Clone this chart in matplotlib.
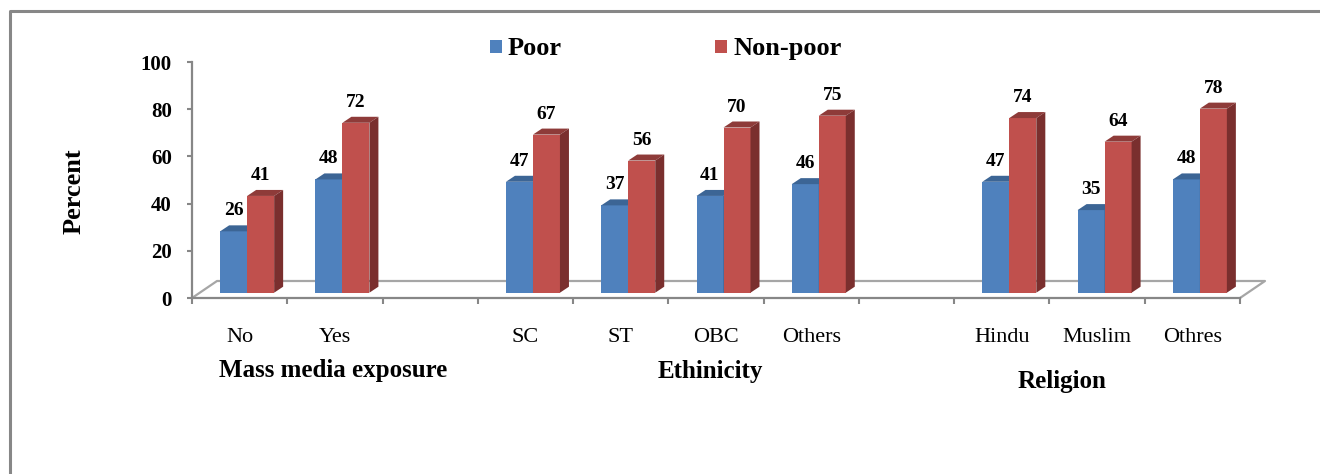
import numpy as np
import matplotlib
matplotlib.use("Agg")
import matplotlib.pyplot as plt
from matplotlib.patches import Polygon, Rectangle

plt.rcParams['font.family'] = ['Liberation Serif', 'DejaVu Serif']

# Categories ('' = empty spacer slot between groups)
categories = ['No', 'Yes', '', 'SC', 'ST', 'OBC', 'Others', '', 'Hindu', 'Muslim', 'Othres']
poor = [26, 48, np.nan, 47, 37, 41, 46, np.nan, 47, 35, 48]
non_poor = [41, 72, np.nan, 67, 56, 70, 75, np.nan, 74, 64, 78]
group_titles = ['Mass media exposure', 'Ethinicity', 'Religion']
series_names = ['Poor', 'Non-poor']
yticks = [0, 20, 40, 60, 80, 100]

W, H = 1320, 474
BLUE = ('#4F81BD', '#3C6595', '#385D8A')   # front, top, side
RED = ('#C0504D', '#8E3B39', '#7A2F2E')
GREY = '#878787'

fig = plt.figure(figsize=(W / 100, H / 100), dpi=100)
fig.patch.set_facecolor('white')

# axes box = front floor edge (x) and value axis (y), in pixels
ax = fig.add_axes([192 / W, 1 - 298 / H, (1240 - 192) / W, (298 - 62) / H])
ax.set_xlim(0, len(categories))
ax.set_ylim(0, 100)
ax.patch.set_visible(False)

px_x = (1240 - 192) / len(categories)
px_y = (298 - 62) / 100.0


def ddx(p):
    return p / px_x


def ddy(p):
    return p / px_y


# floor outline (back edge + side diagonals)
back_x, back_y = ddx(25), ddy(17)
n = len(categories)
ax.plot([0, back_x, n + back_x, n], [0, back_y, back_y, 0],
        color='#A6A6A6', lw=1.6, clip_on=False, zorder=1)

bar_w = ddx(27)
base_dx, base_dy = ddx(7.5), ddy(5.3)
dep_x, dep_y = ddx(9), ddy(6)


def bar3d(x0, val, cols):
    y0 = base_dy
    y1 = base_dy + val
    ax.add_patch(Rectangle((x0, y0), bar_w, val, facecolor=cols[0],
                           edgecolor='none', zorder=3, clip_on=False))
    ax.add_patch(Polygon([(x0, y1), (x0 + bar_w, y1),
                          (x0 + bar_w + dep_x, y1 + dep_y), (x0 + dep_x, y1 + dep_y)],
                         closed=True, facecolor=cols[1], edgecolor='none',
                         zorder=3, clip_on=False))
    ax.add_patch(Polygon([(x0 + bar_w, y0), (x0 + bar_w + dep_x, y0 + dep_y),
                          (x0 + bar_w + dep_x, y1 + dep_y), (x0 + bar_w, y1)],
                         closed=True, facecolor=cols[2], edgecolor='none',
                         zorder=3, clip_on=False))
    ax.annotate('%d' % val, (x0 + bar_w / 2, y1), xytext=(0, 11.5),
                textcoords='offset points', ha='center', va='baseline',
                fontsize=14, fontweight='bold', zorder=5, annotation_clip=False)


for i, (p, q) in enumerate(zip(poor, non_poor)):
    if np.isnan(p):
        continue
    mid = i + 0.5 + base_dx
    bar3d(mid - bar_w, p, BLUE)
    bar3d(mid, q, RED)

# axes lines and ticks
for s in ['top', 'right']:
    ax.spines[s].set_visible(False)
for s in ['left', 'bottom']:
    ax.spines[s].set_color(GREY)
    ax.spines[s].set_linewidth(1.6)
ax.set_yticks(yticks)
ax.set_yticklabels([str(v) for v in yticks], fontsize=15, fontweight='bold')
ax.set_xticks(range(n + 1))
ax.set_xticklabels([])
ax.tick_params(axis='y', length=3.6, width=1.5, color=GREY, pad=11)
ax.tick_params(axis='x', length=4.3, width=1.5, color=GREY)

# category labels
for i, c in enumerate(categories):
    ax.text(i + 0.5, -(342 - 298) / 236, c, transform=ax.get_xaxis_transform(),
            ha='center', va='baseline', fontsize=16)

# group titles
for title, (gx, gy) in zip(group_titles, [(333, 377), (710, 378), (1062, 388)]):
    fig.text(gx / W, 1 - gy / H, title, ha='center', va='baseline',
             fontsize=18, fontweight='bold')

fig.text(74 / W, 1 - 191 / H, 'Percent', rotation=90, ha='center', va='center',
         fontsize=19, fontweight='bold')

# legend
for name, col, sx in zip(series_names, [BLUE[0], RED[0]], [490, 715]):
    fig.patches.append(Rectangle((sx / W, 1 - 53 / H), 12 / W, 13 / H,
                                 transform=fig.transFigure, facecolor=col,
                                 edgecolor='none'))
    fig.text((sx + 18) / W, 1 - 55 / H, name, ha='left', va='baseline',
             fontsize=19, fontweight='bold')

# chart frame (left and top edges)
fig.add_artist(plt.Line2D([9.5 / W, 9.5 / W, 1.0], [0.0, 1 - 11 / H, 1 - 11 / H],
                          transform=fig.transFigure, color=GREY, lw=2.2))

fig.savefig('out.png', dpi=100)
